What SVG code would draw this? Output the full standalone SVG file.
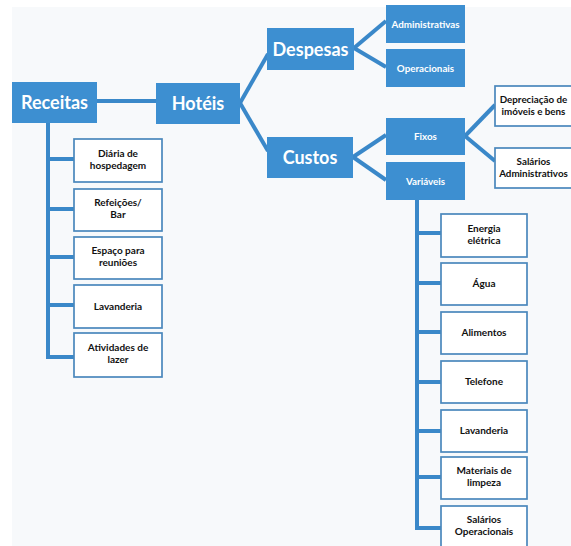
<svg xmlns="http://www.w3.org/2000/svg" width="571" height="546" viewBox="0 0 571 546">
<style>
.bg{fill:#f7f9fb}
.blue{fill:#3d8fd1}
.wbox{fill:#ffffff;stroke:#4a88bc;stroke-width:1.7}
.big{font-family:Lato,"Liberation Sans",sans-serif;font-weight:bold;font-size:18px;fill:#ffffff;text-anchor:middle}
.mid{font-family:Lato,"Liberation Sans",sans-serif;font-weight:bold;font-size:9.8px;fill:#ffffff;text-anchor:middle}
.sm{font-family:Lato,"Liberation Sans",sans-serif;font-weight:bold;font-size:10px;fill:#111111;text-anchor:middle}
.edge{font-size:9.8px}
.conn line,.conn path{stroke:#3a88c9;stroke-width:4;fill:none}
</style>
<rect x="0" y="0" width="571" height="546" fill="#ffffff"/>
<rect class="bg" x="12" y="7" width="559" height="539"/>

<g class="conn" id="connectors">
<line x1="97" y1="101" x2="156" y2="101"/>
<line x1="240" y1="103" x2="268" y2="54"/>
<line x1="240" y1="103" x2="268" y2="151"/>
<line x1="354" y1="48" x2="386" y2="21"/>
<line x1="354" y1="48" x2="386" y2="67"/>
<line x1="353" y1="157" x2="386" y2="135"/>
<line x1="353" y1="157" x2="386" y2="180"/>
<line x1="465" y1="136" x2="495" y2="105"/>
<line x1="465" y1="136" x2="495" y2="161"/>
<path d="M48 123 V357 H74 M48 159 H74 M48 209 H74 M48 257 H74 M48 305 H74"/>
<path d="M417 200 V528 H441 M417 233 H441 M417 283 H441 M417 332 H441 M417 382 H441 M417 431 H441 M417 477 H441"/>
</g>

<g id="receitas"><rect class="blue" x="12" y="82" width="85" height="41"/><text class="big" x="54.5" y="109">Receitas</text></g>
<g id="hoteis"><rect class="blue" x="156" y="83" width="84" height="41"/><text class="big" x="198" y="110">Hotéis</text></g>
<g id="despesas"><rect class="blue" x="267" y="28" width="87" height="42"/><text class="big" x="310.5" y="55.5">Despesas</text></g>
<g id="custos"><rect class="blue" x="267" y="137" width="86" height="41"/><text class="big" x="310" y="164">Custos</text></g>

<g id="administrativas"><rect class="blue" x="386" y="5" width="79" height="38"/><text class="mid" x="425.5" y="27.5">Administrativas</text></g>
<g id="operacionais"><rect class="blue" x="386" y="49" width="79" height="38"/><text class="mid" x="425.5" y="71.5">Operacionais</text></g>
<g id="fixos"><rect class="blue" x="386" y="118" width="79" height="37"/><text class="mid" x="425.5" y="140">Fixos</text></g>
<g id="variaveis"><rect class="blue" x="386" y="162" width="79" height="38"/><text class="mid" x="425.5" y="184.5">Variáveis</text></g>

<g id="depreciacao"><rect class="wbox" x="495" y="86" width="86" height="40"/><text class="sm edge" x="533.5" y="103">Depreciação de</text><text class="sm edge" x="533.5" y="115">imóveis e bens</text></g>
<g id="salarios-adm"><rect class="wbox" x="495" y="148" width="86" height="40"/><text class="sm edge" x="533.5" y="165">Salários</text><text class="sm edge" x="533.5" y="177">Administrativos</text></g>

<g id="diaria"><rect class="wbox" x="74" y="139" width="88" height="43"/><text class="sm" x="118" y="157">Diária de</text><text class="sm" x="118" y="169">hospedagem</text></g>
<g id="refeicoes"><rect class="wbox" x="74" y="189" width="88" height="42"/><text class="sm" x="118" y="206">Refeições/</text><text class="sm" x="118" y="218">Bar</text></g>
<g id="espaco"><rect class="wbox" x="74" y="237" width="88" height="42"/><text class="sm" x="118" y="254">Espaço para</text><text class="sm" x="118" y="266">reuniões</text></g>
<g id="lavanderia1"><rect class="wbox" x="74" y="285" width="88" height="43"/><text class="sm" x="118" y="310">Lavanderia</text></g>
<g id="atividades"><rect class="wbox" x="74" y="333" width="88" height="44"/><text class="sm" x="118" y="351">Atividades de</text><text class="sm" x="118" y="363">lazer</text></g>

<g id="energia"><rect class="wbox" x="441" y="214" width="86" height="43"/><text class="sm" x="484" y="232">Energia</text><text class="sm" x="484" y="244">elétrica</text></g>
<g id="agua"><rect class="wbox" x="441" y="263" width="86" height="42"/><text class="sm" x="484" y="287">Água</text></g>
<g id="alimentos"><rect class="wbox" x="441" y="312" width="86" height="42"/><text class="sm" x="484" y="336">Alimentos</text></g>
<g id="telefone"><rect class="wbox" x="441" y="361" width="86" height="42"/><text class="sm" x="484" y="385">Telefone</text></g>
<g id="lavanderia2"><rect class="wbox" x="441" y="410" width="86" height="42"/><text class="sm" x="484" y="434">Lavanderia</text></g>
<g id="materiais"><rect class="wbox" x="441" y="457" width="86" height="42"/><text class="sm" x="484" y="474">Materiais de</text><text class="sm" x="484" y="486">limpeza</text></g>
<g id="salarios-op"><rect class="wbox" x="441" y="506" width="86" height="42"/><text class="sm" x="484" y="523">Salários</text><text class="sm" x="484" y="535">Operacionais</text></g>
</svg>
